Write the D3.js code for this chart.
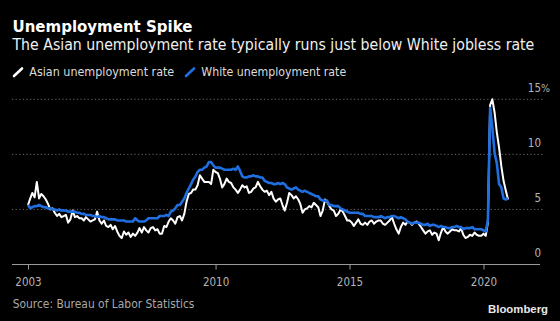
<!DOCTYPE html>
<html>
<head>
<meta charset="utf-8">
<script src="https://cdn.jsdelivr.net/npm/d3@7"></script>
<style>
  html, body { margin: 0; padding: 0; background: #000; }
  svg { display: block; }
</style>
</head>
<body>
<div id="chart"></div>
<script>
// monthly rates, Jan 2003 .. Dec 2020 (one row per year)
var start_year = 2003;

var asian_rate = [
  5.4, 6.0, 6.5, 6.1, 7.5, 6.0, 6.4, 6.2, 5.9, 5.5, 5.0, 5.1,
  4.7, 4.4, 4.6, 4.3, 4.4, 4.5, 3.8, 4.1, 4.9, 4.3, 4.4, 4.2,
  4.2, 4.0, 4.3, 4.1, 3.9, 4.0, 4.1, 4.8, 4.0, 3.7, 4.0, 3.5,
  3.4, 3.6, 3.2, 3.5, 3.0, 2.6, 2.4, 3.0, 2.7, 2.9, 2.5, 2.8,
  2.6, 2.9, 3.3, 2.9, 3.4, 3.1, 2.9, 3.3, 3.4, 3.1, 3.2, 2.8,
  2.8, 3.5, 3.4, 3.9, 4.2, 4.0, 3.7, 4.3, 4.4, 4.0, 4.6, 5.7,
  6.4, 6.5, 6.8, 6.8, 7.2, 8.1, 7.8, 7.5, 7.5, 7.5, 7.3, 8.6,
  8.4, 8.3, 7.8, 7.0, 7.3, 7.8, 7.5, 7.4, 7.0, 6.8, 6.5, 6.8,
  7.2, 7.0, 7.1, 6.5, 6.6, 6.9, 7.0, 7.5, 7.1, 6.8, 6.6, 6.7,
  6.3, 6.6, 6.0, 5.7, 5.9, 6.0, 5.4, 4.9, 5.6, 6.5, 6.3, 6.0,
  6.2, 5.9, 5.5, 4.7, 5.0, 5.1, 5.3, 5.2, 5.6, 5.4, 5.2, 4.4,
  4.9, 5.9, 5.7, 5.3, 5.0, 4.9, 4.4, 4.6, 5.0, 4.8, 4.4, 4.0,
  4.0, 3.8, 3.5, 3.8, 4.1, 3.7, 3.6, 3.8, 3.6, 3.9, 4.0, 3.7,
  3.9, 4.0, 4.0, 3.7, 3.6, 3.8, 4.0, 4.3, 3.7, 3.2, 2.8, 3.4,
  3.8, 3.6, 3.9, 3.8, 3.6, 3.8, 3.9, 3.7, 3.4, 3.1, 2.8, 3.0,
  3.1, 2.7, 2.9, 2.8, 2.2, 2.9, 3.4, 3.0, 2.8, 3.0, 3.2, 3.1,
  3.1, 3.0, 3.3, 2.7, 2.4, 2.5, 2.7, 2.6, 2.9, 2.7, 2.6, 2.6,
  2.8, 2.6, 3.8, 14.5, 15.0, 13.8, 12.0, 10.6, 8.9, 7.6, 6.7, 5.9
];

var white_rate = [
  5.4, 5.1, 5.2, 5.3, 5.3, 5.4, 5.3, 5.2, 5.2, 5.1, 5.1, 5.0,
  5.0, 4.9, 5.0, 4.9, 4.9, 4.9, 4.8, 4.8, 4.8, 4.8, 4.7, 4.7,
  4.6, 4.6, 4.5, 4.5, 4.5, 4.4, 4.4, 4.3, 4.4, 4.3, 4.3, 4.2,
  4.1, 4.1, 4.1, 4.1, 4.0, 4.0, 4.0, 4.0, 3.9, 3.9, 3.9, 3.9,
  4.2, 4.0, 3.9, 3.9, 3.9, 4.0, 4.2, 4.2, 4.2, 4.2, 4.2, 4.4,
  4.4, 4.4, 4.5, 4.4, 4.8, 4.9, 5.1, 5.4, 5.4, 5.7, 6.0, 6.5,
  6.9, 7.3, 7.7, 8.0, 8.4, 8.6, 8.6, 8.8, 8.9, 9.3, 9.3, 9.0,
  8.8, 8.8, 8.8, 8.7, 8.6, 8.6, 8.6, 8.6, 8.7, 8.6, 8.9, 8.5,
  8.0, 7.9, 7.9, 8.0, 8.0, 8.1, 8.0, 8.0, 7.9, 7.9, 7.6, 7.5,
  7.4, 7.4, 7.3, 7.3, 7.4, 7.3, 7.4, 7.3, 7.0, 6.9, 6.8, 6.9,
  7.0, 6.8, 6.7, 6.6, 6.7, 6.6, 6.5, 6.4, 6.3, 6.2, 6.2, 5.9,
  5.8, 5.8, 5.8, 5.4, 5.4, 5.3, 5.3, 5.3, 5.1, 5.0, 4.9, 4.8,
  4.7, 4.7, 4.7, 4.7, 4.7, 4.6, 4.6, 4.4, 4.4, 4.4, 4.4, 4.3,
  4.3, 4.3, 4.4, 4.3, 4.2, 4.3, 4.3, 4.4, 4.4, 4.3, 4.2, 4.3,
  4.2, 4.1, 3.9, 3.8, 3.7, 3.8, 3.8, 3.8, 3.7, 3.6, 3.6, 3.7,
  3.5, 3.6, 3.6, 3.5, 3.4, 3.5, 3.4, 3.4, 3.3, 3.3, 3.4, 3.4,
  3.5, 3.4, 3.4, 3.2, 3.3, 3.3, 3.3, 3.4, 3.2, 3.2, 3.2, 3.2,
  3.1, 3.0, 4.0, 14.2, 12.4, 10.1, 9.2, 7.3, 7.0, 6.0, 5.9, 6.0
];

var x_tick_years = [2003, 2010, 2015, 2020];
var y_tick_values = [0, 5, 10, 15];

var series_names = ["Asian unemployment rate", "White unemployment rate"];
var series_colors = ["#ffffff", "#1f6fe0"];

var create_chart = function() {
  // Change these to fine-tune the layout
  var width = 560;
  var height = 321;
  var plot_left = 12;
  var axis_right = 540;
  var grid_right = 543;
  var x_range = [28, 539];
  var y_range = [264.5, 99.3];
  var body_font = "'DejaVu Sans Condensed', 'DejaVu Sans', sans-serif";
  //////////////////////////////////

  var svg = d3.select("#chart").append("svg")
      .attr("width", width)
      .attr("height", height)
      .style("background", "#000");

  // squeeze or grow a text so that it spans the given width
  var fit_width = function(sel, target) {
    var len = sel.node().getComputedTextLength();
    var fs = parseFloat(sel.attr("font-size"));
    sel.attr("font-size", (fs * target / len).toFixed(2));
    return sel;
  }

  var add_text = function(x, y, txt, size, color, opts) {
    opts = opts || {};
    var t = svg.append("text")
        .attr("x", x)
        .attr("y", y)
        .attr("font-family", opts.family || body_font)
        .attr("font-size", size)
        .attr("font-weight", opts.bold ? "bold" : "normal")
        .attr("fill", color)
        .attr("text-anchor", opts.anchor || "start")
        .text(txt);
    if (opts.fit) fit_width(t, opts.fit);
    return t;
  }

  // *** HEADER *** //

  add_text(12.5, 32, "Unemployment Spike", 15, "#ffffff",
    { bold: true, family: "'DejaVu Sans', sans-serif", fit: 180 });
  add_text(12.5, 50, "The Asian unemployment rate typically runs just below White jobless rate",
    15, "#f0f0f0", { fit: 522 });

  var legend_x = [13, 185];
  for (var i = 0 ; i < series_names.length ; i++) {
    var lx = legend_x[i];
    svg.append("line")
        .attr("x1", lx + 1)
        .attr("y1", 76)
        .attr("x2", lx + 9)
        .attr("y2", 68.5)
        .attr("stroke", series_colors[i])
        .attr("stroke-width", 2.6)
        .attr("stroke-linecap", "round");
    add_text(lx + 16.3, 76, series_names[i], 12.5, "#dcdcdc", { fit: 145 });
  }

  // ************** //

  // *** SCALES *** //

  var parse_month = function(i) {
    return new Date(start_year, i, 1);
  }

  var x = d3.scaleTime()
      .domain([new Date(2003, 0, 1), new Date(2022, 0, 27)])
      .range(x_range);

  var y = d3.scaleLinear()
      .domain([0, 15])
      .range(y_range);

  // ************** //

  // *** AXES *** //

  // dotted gridlines, 0 is covered by the axis line
  svg.append("g")
    .selectAll("line")
    .data(y_tick_values.filter(function(v) { return v > 0; }))
    .join("line")
      .attr("x1", plot_left)
      .attr("x2", grid_right)
      .attr("y1", function(v) { return y(v); })
      .attr("y2", function(v) { return y(v); })
      .attr("stroke", "#6a6a6a")
      .attr("stroke-width", 1)
      .attr("stroke-dasharray", "1.2,2.4");

  for (var i = 0 ; i < y_tick_values.length ; i++) {
    var v = y_tick_values[i];
    var t = add_text(541, y(v) - 7.5, String(v), 11.5, "#b4b4b4", { anchor: "end" });
    if (v == 15) {
      svg.append("text")
          .attr("x", 541)
          .attr("y", y(v) - 7.5)
          .attr("font-family", body_font)
          .attr("font-size", 10.5)
          .attr("fill", "#b4b4b4")
          .text("%");
    }
  }

  var x_axis = d3.axisBottom(x)
      .tickValues(x_tick_years.map(function(yr) { return new Date(yr, 0, 1); }))
      .tickFormat(d3.timeFormat("%Y"))
      .tickSize(5)
      .tickPadding(8);

  var gx = svg.append("g")
      .attr("transform", "translate(0," + y(0) + ")")
      .call(x_axis);

  gx.select(".domain").remove();
  gx.selectAll(".tick line").attr("stroke", "#9a9a9a");
  gx.selectAll(".tick text")
      .attr("fill", "#b4b4b4")
      .attr("font-family", body_font)
      .attr("font-size", 11.5);

  svg.append("line")
      .attr("x1", plot_left)
      .attr("x2", axis_right)
      .attr("y1", y(0))
      .attr("y2", y(0))
      .attr("stroke", "#9a9a9a")
      .attr("stroke-width", 1.2);

  // ************ //

  // *** LINES *** //

  var line = d3.line()
      .x(function(d, i) { return x(parse_month(i)); })
      .y(function(d) { return y(d); })
      .curve(d3.curveLinear);

  var all_series = [asian_rate, white_rate];
  var widths = [2, 2.6];
  for (var i = 0 ; i < all_series.length ; i++) {
    svg.append("path")
        .datum(all_series[i])
        .attr("fill", "none")
        .attr("stroke", series_colors[i])
        .attr("stroke-width", widths[i])
        .attr("stroke-linejoin", "round")
        .attr("d", line);
  }

  // ************* //

  // *** FOOTER *** //

  add_text(12.7, 308, "Source: Bureau of Labor Statistics", 11.5, "#a8a8a8", { fit: 182 });
  add_text(548, 313, "Bloomberg", 12, "#e8e8e8",
    { bold: true, anchor: "end", family: "'Liberation Sans', Arial, sans-serif", fit: 60 });

  // ************** //
}

create_chart();
</script>
</body>
</html>
